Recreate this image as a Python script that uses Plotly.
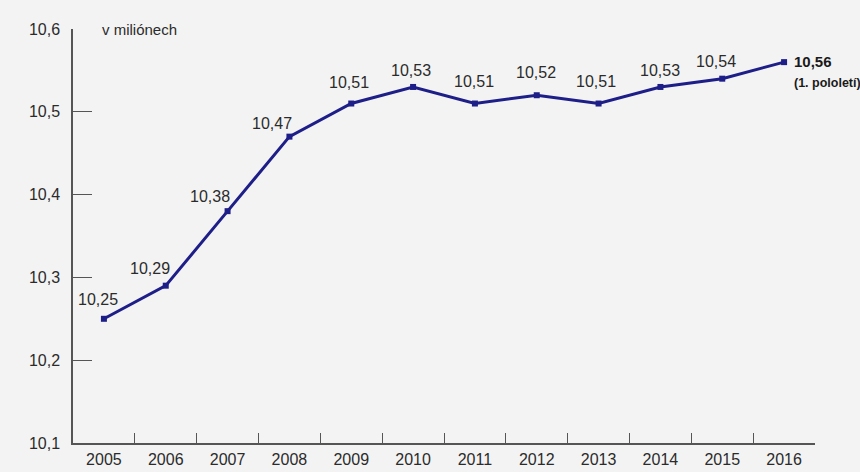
import plotly.graph_objects as go

years = ["2005", "2006", "2007", "2008", "2009", "2010", "2011", "2012", "2013", "2014", "2015", "2016"]
population = [10.25, 10.29, 10.38, 10.47, 10.51, 10.53, 10.51, 10.52, 10.51, 10.53, 10.54, 10.56]
value_labels = ["10,25", "10,29", "10,38", "10,47", "10,51", "10,53", "10,51", "10,52", "10,51", "10,53", "10,54", "10,56"]
y_ticks = [10.1, 10.2, 10.3, 10.4, 10.5, 10.6]
y_ticktext = ["10,1", "10,2", "10,3", "10,4", "10,5", "10,6"]
unit_label = "v miliónech"
last_note = "(1. pololetí)"

# label offsets in px (styling)
label_shift = [(-6, 19), (-16, 17), (-18, 15), (-17, 13), (-2, 21), (-2, 16), (-1, 22),
               (-1, 23), (-3, 22), (0, 16), (-6, 17), (0, 0)]

font_family = "Liberation Sans, Arial, Helvetica, sans-serif"
line_color = "#1e1e88"
text_color = "#2b2b2b"
axis_color = "#555555"

fig = go.Figure()
fig.add_trace(go.Scatter(
    x=years, y=population, mode="lines+markers",
    line=dict(color=line_color, width=3),
    marker=dict(symbol="square", size=6, color=line_color),
    hoverinfo="skip", showlegend=False, cliponaxis=False,
))

annotations = []
for i, (v, lab) in enumerate(zip(population, value_labels)):
    if i == len(years) - 1:
        annotations.append(dict(
            x=i, y=v, xref="x", yref="y",
            text="<b>" + lab + "</b><br><span style='font-size:12.5px'><b>" + last_note + "</b></span>",
            showarrow=False, xanchor="left", yanchor="top", xshift=8, yshift=11,
            align="left", font=dict(family=font_family, size=15, color="#1a1a1a"),
        ))
    else:
        dx, dy = label_shift[i]
        annotations.append(dict(
            x=i, y=v, xref="x", yref="y", text=lab, showarrow=False,
            xanchor="center", yanchor="middle", xshift=dx, yshift=dy,
            font=dict(family=font_family, size=16, color=text_color),
        ))

annotations.append(dict(
    x=(100 - 73) / 742, y=10.6, xref="paper", yref="y", text=unit_label,
    showarrow=False, xanchor="left", yanchor="middle",
    font=dict(family=font_family, size=15, color=text_color),
))

fig.update_layout(
    width=860, height=472,
    margin=dict(l=73, r=45, t=29, b=29, autoexpand=False),
    paper_bgcolor="#f3f3f3", plot_bgcolor="#f3f3f3",
    font=dict(family=font_family, size=16, color=text_color),
    annotations=annotations,
    xaxis=dict(
        type="category", range=[-0.5, 11.5], tickson="boundaries",
        ticks="inside", ticklen=10, tickwidth=1.2, tickcolor=axis_color,
        showline=True, linecolor=axis_color, linewidth=1.5,
        showgrid=False, zeroline=False, ticklabelstandoff=1, automargin=False,
        tickfont=dict(family=font_family, size=16, color=text_color),
    ),
    yaxis=dict(
        range=[10.1, 10.6], tickvals=y_ticks, ticktext=y_ticktext,
        ticks="inside", ticklen=19, tickwidth=1.2, tickcolor=axis_color,
        showline=True, linecolor=axis_color, linewidth=1.5,
        showgrid=False, zeroline=False, ticklabelstandoff=8, automargin=False,
        tickfont=dict(family=font_family, size=16, color=text_color),
    ),
)

fig.write_html("out.html")
